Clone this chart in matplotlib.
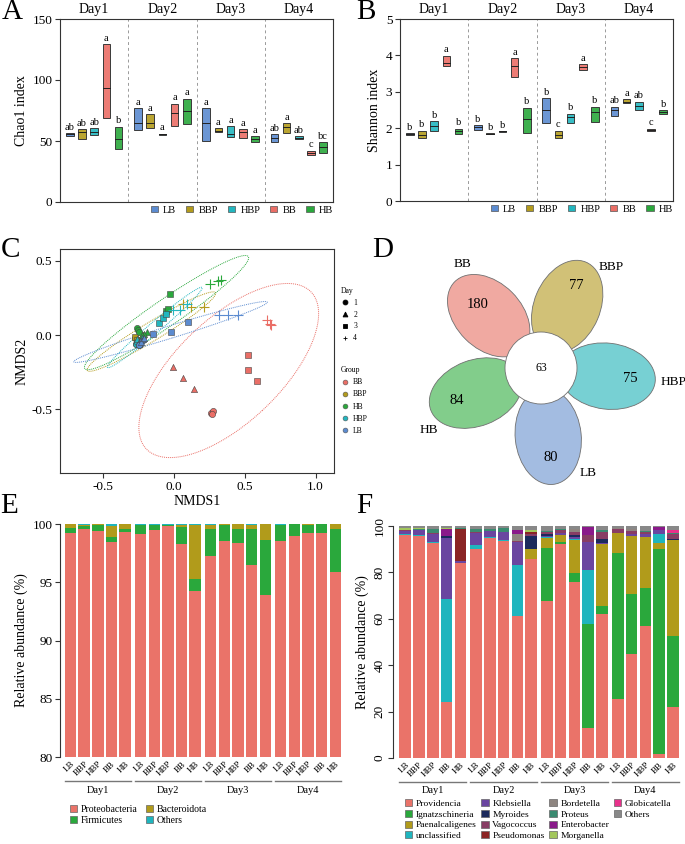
import numpy as np
import matplotlib
matplotlib.use("Agg")
import matplotlib.pyplot as plt
from matplotlib.patches import Ellipse, Circle, Patch
from matplotlib.lines import Line2D
from matplotlib.colors import to_rgba

plt.rcParams["font.family"] = ["Liberation Serif", "DejaVu Serif"]
plt.rcParams["axes.unicode_minus"] = False

W, H = 685, 844

groups = ["LB", "BBP", "HBP", "BB", "HB"]
days = ["Day1", "Day2", "Day3", "Day4"]
group_colors = {"LB": "#5b8bd0", "BBP": "#b39b1c", "HBP": "#22b6bf",
                "BB": "#ea6e66", "HB": "#2aa83c"}

# A: Chao1, rows = days, cols = groups (LB, BBP, HBP, BB, HB)
chao_low = [[54.3, 51.6, 54.9, 68.5, 43.4],
            [59.3, 60.3, 55.3, 62.0, 64.2],
            [50.2, 57.4, 53.3, 52.2, 49.2],
            [49.2, 56.4, 51.4, 38.4, 40.1]]
chao_mid = [[55.5, 57.0, 57.6, 93.7, 51.6],
            [64.8, 64.8, 55.7, 73.0, 74.6],
            [64.8, 58.5, 55.7, 57.0, 51.6],
            [52.4, 61.2, 52.7, 40.1, 44.8]]
chao_high = [[56.5, 59.8, 60.6, 129.5, 61.7],
             [77.0, 72.1, 56.0, 80.6, 84.7],
             [77.0, 60.6, 61.9, 59.8, 54.0],
             [55.7, 64.8, 54.1, 42.2, 49.2]]
chao_letters = [["ab", "ab", "ab", "a", "b"],
                ["a", "a", "a", "a", "a"],
                ["a", "a", "a", "a", "a"],
                ["ab", "a", "ab", "c", "bc"]]

# B: Shannon
shan_low = [[1.82, 1.73, 1.93, 3.70, 1.85],
            [1.96, 1.84, 1.90, 3.42, 1.88],
            [2.14, 1.73, 2.14, 3.59, 2.17],
            [2.33, 2.69, 2.51, 1.93, 2.39]]
shan_mid = [[1.84, 1.82, 2.05, 3.80, 1.93],
            [2.02, 1.85, 1.91, 3.71, 2.25],
            [2.51, 1.81, 2.30, 3.67, 2.44],
            [2.51, 2.73, 2.62, 1.96, 2.44]]
shan_high = [[1.87, 1.93, 2.19, 3.99, 1.99],
             [2.08, 1.86, 1.92, 3.92, 2.56],
             [2.82, 1.93, 2.40, 3.76, 2.59],
             [2.59, 2.79, 2.73, 1.99, 2.49]]
shan_letters = [["b", "b", "b", "a", "b"],
                ["b", "b", "b", "a", "b"],
                ["b", "c", "b", "a", "b"],
                ["ab", "a", "ab", "c", "b"]]

# C: NMDS scores, 3 replicates per day (Day1..Day4)
nmds_order = ["BB", "BBP", "HB", "HBP", "LB"]
nmds1 = {
    "BB": [0.257, 0.273, 0.265, -0.007, 0.065, 0.138, 0.519, 0.521, 0.589, 0.654, 0.682, 0.675],
    "BBP": [-0.275, -0.26, -0.27, -0.22, -0.24, -0.26, -0.276, -0.264, -0.25, 0.063, 0.117, 0.208],
    "HB": [-0.265, -0.255, -0.25, -0.19, -0.21, -0.23, -0.03, -0.06, -0.047, 0.25, 0.308, 0.332],
    "HBP": [-0.27, -0.26, -0.25, -0.26, -0.245, -0.23, -0.105, -0.082, -0.061, -0.01, 0.04, 0.09],
    "LB": [-0.24, -0.23, -0.25, -0.22, -0.235, -0.21, -0.147, -0.019, 0.098, 0.32, 0.378, 0.449],
}
nmds2 = {
    "BB": [-0.523, -0.514, -0.53, -0.214, -0.288, -0.365, -0.133, -0.234, -0.311, 0.101, 0.065, 0.075],
    "BBP": [-0.02, -0.04, -0.06, 0.0, -0.03, -0.05, -0.011, -0.034, -0.06, 0.21, 0.187, 0.187],
    "HB": [0.045, 0.035, 0.02, 0.02, 0.005, 0.0, 0.277, 0.162, 0.173, 0.342, 0.365, 0.372],
    "HBP": [-0.06, -0.05, -0.07, -0.03, -0.045, -0.02, 0.079, 0.113, 0.142, 0.17, 0.17, 0.21],
    "LB": [-0.06, -0.04, -0.07, -0.03, -0.05, -0.02, 0.005, 0.023, 0.086, 0.135, 0.135, 0.135],
}

# D: flower diagram
venn_sets = ["BB", "BBP", "HBP", "LB", "HB"]
venn_unique = [180, 77, 75, 80, 84]
venn_core = 63
venn_colors = ["#f0a9a1", "#d1c177", "#77d0d3", "#a3bce1", "#82cd8b"]

# E: phylum relative abundance (%), 20 samples: Day1 LB..HB, Day2 ..., Day4
proteobacteria = [99.2, 99.57, 99.43, 98.48, 99.34, 99.14, 99.51, 99.8, 98.3, 94.25,
                  97.27, 98.5, 98.33, 96.47, 93.9, 98.5, 98.99, 99.22, 99.2, 95.92]
firmicutes = [0.45, 0.23, 0.46, 0.37, 0.23, 0.8, 0.43, 0.14, 1.44, 1.04,
              2.33, 1.44, 1.27, 3.13, 4.69, 1.44, 1.0, 0.67, 0.77, 3.68]
bacteroidota = [0.35, 0.15, 0.1, 0.95, 0.43, 0.01, 0.01, 0.01, 0.17, 4.65,
                0.34, 0.05, 0.4, 0.32, 1.41, 0.0, 0.01, 0.11, 0.0, 0.4]
phylum_others = [0.0, 0.05, 0.01, 0.2, 0.0, 0.05, 0.05, 0.05, 0.09, 0.06,
                 0.06, 0.01, 0.0, 0.08, 0.0, 0.06, 0.0, 0.0, 0.03, 0.0]
phylum_names = ["Proteobacteria", "Firmicutes", "Bacteroidota", "Others"]
phylum_colors = ["#ea7369", "#2aa83c", "#b19b1b", "#1fb5be"]

# F: genus relative abundance (%)
providencia = [96.3, 95.5, 92.7, 24.3, 84.1, 90.2, 94.8, 93.5, 61.4, 85.8,
               67.5, 92.4, 75.7, 13.1, 61.9, 25.4, 45.0, 56.8, 1.6, 22.0]
ignatzschineria = [0, 0, 0, 0, 0, 0, 0, 0, 0, 0,
                   23.0, 0.8, 4.2, 44.8, 3.6, 63.1, 25.5, 16.6, 88.6, 30.6]
paenalcaligenes = [0, 0, 0, 0, 0, 0, 0, 0, 0, 4.4,
                   4.3, 2.8, 13.9, 0, 26.7, 8.6, 25.0, 21.9, 2.5, 41.5]
unclassified = [0.3, 0.7, 0.4, 44.1, 0, 1.5, 0.6, 0.6, 21.6, 0,
                0.3, 0.3, 0.4, 23.0, 0, 0, 0.4, 0, 3.9, 0]
klebsiella = [1.2, 1.9, 3.6, 26.6, 0.7, 5.3, 2.6, 3.2, 10.1, 0,
              0.8, 0.8, 1.2, 12.2, 0.5, 0, 0.8, 1.2, 1.6, 0]
myroides = [0, 0, 0, 0.9, 0, 0, 0, 0, 0, 5.5,
            0.5, 0, 0.6, 0, 1.5, 0, 0, 0, 0, 0.5]
vagococcus = [0.3, 0, 0.3, 0, 0, 0.6, 0, 0, 0.5, 0.9,
              1.0, 1.0, 1.4, 2.9, 3.3, 1.5, 1.0, 0.8, 0, 1.9]
pseudomonas = [0, 0, 0, 0, 13.8, 0, 0, 0, 0, 0.6,
               0, 0, 0, 0, 0, 0, 0, 0, 0, 0]
bordetella = [0, 0, 0, 0, 0, 0, 0, 0, 2.9, 0,
              0, 0, 1.2, 0, 0, 0.4, 1.0, 0, 0, 0]
proteus = [0.3, 0.8, 1.9, 0, 0.6, 1.2, 0.7, 1.7, 0, 0,
           0.6, 0.5, 0, 0, 0.8, 0, 0, 0.5, 0, 0.5]
enterobacter = [0, 0, 0, 2.7, 0, 0, 0, 0, 1.7, 0,
                0, 0, 0, 3.4, 0, 0, 0, 0, 1.4, 0]
morganella = [0.8, 0.2, 0, 0.7, 0, 0, 0, 0, 0, 1.2,
              0, 0, 0, 0, 0, 0, 0, 0, 0, 0]
globicatella = [0, 0, 0, 0, 0, 0, 0, 0, 0, 0,
                0, 0, 0, 0, 0, 0, 0, 0, 0, 1.3]
genus_others = [0.8, 0.9, 1.1, 0.7, 0.8, 1.2, 1.3, 1.0, 1.8, 1.6,
                2.0, 1.4, 1.4, 0.6, 1.7, 1.0, 1.3, 2.2, 0.4, 1.7]
genus_names = ["Providencia", "Ignatzschineria", "Paenalcaligenes", "unclassified",
               "Klebsiella", "Myroides", "Vagococcus", "Pseudomonas",
               "Bordetella", "Proteus", "Enterobacter", "Morganella",
               "Globicatella", "Others"]
genus_colors = ["#ea7369", "#2aa83c", "#b19b1b", "#1fb5be", "#6a45a0", "#1c2a5c",
                "#883d64", "#8b2424", "#8e8580", "#3a8a70", "#8a1a8a", "#a3c75c",
                "#e8318b", "#888888"]

fig = plt.figure(figsize=(W / 100, H / 100), dpi=100)


def px_axes(left, top, right, bottom):
    return fig.add_axes([left / W, 1 - bottom / H, (right - left) / W, (bottom - top) / H])


def style_ticks(ax):
    ax.tick_params(direction="out", length=3.5, width=0.8, color="#333333",
                   labelsize=9.5, pad=2)
    for s in ax.spines.values():
        s.set_color("#333333")
        s.set_linewidth(0.8)


def box_panel(ax, low, mid, high, letters, ymax, yticks, ylabel):
    step = 5.6
    for d in range(4):
        for g, grp in enumerate(groups):
            x = d * step + 0.8 + g
            lo, md, hi = low[d][g], mid[d][g], high[d][g]
            ax.bar(x, hi - lo, bottom=lo, width=0.62,
                   facecolor=to_rgba(group_colors[grp], 0.9),
                   edgecolor="#3a3a3a", linewidth=0.7, zorder=3)
            ax.plot([x - 0.31, x + 0.31], [md, md], color="#222222", lw=0.7, zorder=4)
            ax.annotate(letters[d][g], (x, hi), xytext=(0, 1), textcoords="offset points",
                        ha="center", va="bottom", fontsize=7.5)
        if d:
            ax.axvline(d * step, color="#9a9a9a", lw=0.7, ls=(0, (3, 3)))
        ax.text(d * step + step / 2, 1.015, days[d], transform=ax.get_xaxis_transform(),
                ha="center", va="bottom", fontsize=10)
    ax.set_xlim(0, 4 * step)
    ax.set_ylim(0, ymax)
    ax.set_yticks(yticks)
    ax.set_xticks([])
    ax.set_ylabel(ylabel, fontsize=10, labelpad=3)
    style_ticks(ax)
    handles = [Patch(facecolor=group_colors[g], edgecolor="#555555", linewidth=0.5)
               for g in groups]
    ax.legend(handles, groups, ncol=5, loc="upper right", bbox_to_anchor=(1.0, -0.02),
              frameon=False, fontsize=7.5, handlelength=0.7, handleheight=0.55,
              handletextpad=0.5, columnspacing=0.95, borderaxespad=0, borderpad=0)


ax_a = px_axes(60, 19, 333, 202)
box_panel(ax_a, chao_low, chao_mid, chao_high, chao_letters, 150, [0, 50, 100, 150], "Chao1 index")
ax_b = px_axes(400, 19, 673, 201)
box_panel(ax_b, shan_low, shan_mid, shan_high, shan_letters, 5, [0, 1, 2, 3, 4, 5], "Shannon index")

# C: NMDS
ax_c = px_axes(60, 249, 334, 473)
day_markers = ["o", "^", "s", "+"]
ELLIPSE_R = 2.55  # close to the robust t-ellipse drawn by stat_ellipse
t = np.linspace(0, 2 * np.pi, 200)
for grp in nmds_order:
    xs = np.array(nmds1[grp])
    ys = np.array(nmds2[grp])
    c = group_colors[grp]
    w, v = np.linalg.eigh(np.cov(xs, ys))
    pts = (v * np.sqrt(w)) @ np.stack([np.cos(t), np.sin(t)]) * ELLIPSE_R
    ax_c.plot(xs.mean() + pts[0], ys.mean() + pts[1], color=c, lw=0.7, ls=(0, (1, 1)), zorder=1)
for grp in nmds_order:
    xs = np.array(nmds1[grp])
    ys = np.array(nmds2[grp])
    c = group_colors[grp]
    for d in range(4):
        sl = slice(3 * d, 3 * d + 3)
        if day_markers[d] == "+":
            ax_c.scatter(xs[sl], ys[sl], marker="+", s=45, color=c, linewidths=0.8, zorder=3)
        else:
            ax_c.scatter(xs[sl], ys[sl], marker=day_markers[d], s=20, facecolor=c,
                         edgecolor="#444444", linewidths=0.4, zorder=3)
ax_c.set_xlim(-0.807, 1.13)
ax_c.set_ylim(-0.93, 0.58)
ax_c.set_xticks([-0.5, 0.0, 0.5, 1.0])
ax_c.set_xticklabels(["-0.5", "0.0", "0.5", "1.0"])
ax_c.set_yticks([-0.5, 0.0, 0.5])
ax_c.set_yticklabels(["-0.5", "0.0", "0.5"])
ax_c.set_xlabel("NMDS1", fontsize=10, labelpad=2)
ax_c.set_ylabel("NMDS2", fontsize=10, labelpad=2)
style_ticks(ax_c)

day_handles = [Line2D([], [], ls="", marker=m, color="black", markersize=3.5, markeredgewidth=0.6)
               for m in day_markers]
leg1 = ax_c.legend(day_handles, ["1", "2", "3", "4"], title="Day", loc="upper left",
                   bbox_to_anchor=(341 / W, 1 - 287 / H), bbox_transform=fig.transFigure,
                   frameon=False, fontsize=5.5, title_fontsize=5.5, handlelength=1.0,
                   handletextpad=0.6, labelspacing=0.5, borderpad=0, borderaxespad=0,
                   alignment="left")
ax_c.add_artist(leg1)
grp_handles = [Line2D([], [], ls="", marker="o", markerfacecolor=group_colors[g],
                      markeredgecolor="#555555", markeredgewidth=0.4, markersize=3.5)
               for g in nmds_order]
ax_c.legend(grp_handles, nmds_order, title="Group", loc="upper left",
            bbox_to_anchor=(341 / W, 1 - 366 / H), bbox_transform=fig.transFigure,
            frameon=False, fontsize=5.5, title_fontsize=5.5, handlelength=1.0,
            handletextpad=0.6, labelspacing=0.55, borderpad=0, borderaxespad=0,
            alignment="left")

# D: flower diagram (layout in pixel units around the core circle)
ax_d = px_axes(380, 240, 685, 495)
ax_d.set_xlim(-161, 144)
ax_d.set_ylim(-127, 128)
ax_d.axis("off")
petal_angles = [135, 67, -7, -84, 201]
petal_dist = [74, 67, 67, 69, 70]
label_angles = [127, 55, -6, -66, 209]
label_radius = [130, 123, 133, 115, 128]
for i, name in enumerate(venn_sets):
    a = np.deg2rad(petal_angles[i])
    r = petal_dist[i]
    ax_d.add_patch(Ellipse((r * np.cos(a), r * np.sin(a)), 96, 66, angle=petal_angles[i],
                           facecolor=venn_colors[i], edgecolor="#707070", lw=0.6))
    ax_d.text(90 * np.cos(a), 90 * np.sin(a), str(venn_unique[i]), ha="center", va="center",
              fontsize=10.5)
    la = np.deg2rad(label_angles[i])
    ax_d.text(label_radius[i] * np.cos(la), label_radius[i] * np.sin(la), name,
              ha="center", va="center", fontsize=9.5)
ax_d.add_patch(Circle((0, 0), 36, facecolor="white", edgecolor="#707070", lw=0.6, zorder=5))
ax_d.text(0, 0, str(venn_core), ha="center", va="center", fontsize=8.5, zorder=6)


def stacked_panel(ax, series, colors, ymin, yticks, rotate_y):
    step = 5.13
    pos = np.array([d * step + g for d in range(4) for g in range(5)])
    bottom = np.zeros(len(pos))
    for vals, col in zip(series, colors):
        vals = np.array(vals, dtype=float)
        ax.bar(pos, vals, bottom=bottom, width=0.84, color=col, linewidth=0)
        bottom += vals
    ax.set_ylim(ymin, 100)
    ax.set_yticks(yticks)
    ax.set_xticks(pos)
    ax.set_xticklabels(groups * 4, rotation=45, ha="right", rotation_mode="anchor", fontsize=6.5)
    ax.tick_params(axis="x", length=0, pad=2)
    for s in ["top", "right", "bottom"]:
        ax.spines[s].set_visible(False)
    ax.spines["left"].set_color("#333333")
    ax.spines["left"].set_linewidth(0.8)
    ax.tick_params(axis="y", direction="out", length=3.5, width=0.8, color="#333333",
                   labelsize=9.5, pad=2)
    if rotate_y:
        for lbl in ax.get_yticklabels():
            lbl.set_rotation(90)
            lbl.set_va("center")
    ax.set_ylabel("Relative abundance (%)", fontsize=10, labelpad=3)
    tr = ax.get_xaxis_transform()
    for d in range(4):
        x0, x1 = d * step - 0.42, d * step + 4.42
        ax.plot([x0, x1], [-0.103, -0.103], transform=tr, clip_on=False, color="#777777", lw=1.0)
        ax.text((x0 + x1) / 2, -0.142, days[d], transform=tr, ha="center", va="center",
                fontsize=7.5)
    return pos


ax_e = px_axes(60, 524, 343, 757)
stacked_panel(ax_e, [proteobacteria, firmicutes, bacteroidota, phylum_others], phylum_colors,
              80, [80, 85, 90, 95, 100], False)
ax_e.set_xlim(-0.77, 19.95)
e_handles = [Patch(facecolor=c, edgecolor="#666666", linewidth=0.5) for c in phylum_colors]
ax_e.legend(e_handles, phylum_names, ncol=2, loc="upper left",
            bbox_to_anchor=(70 / W, 1 - 805 / H), bbox_transform=fig.transFigure,
            frameon=False, fontsize=7, handlelength=0.75, handleheight=0.75,
            handletextpad=0.4, labelspacing=0.22, columnspacing=0.8, borderpad=0,
            borderaxespad=0)

ax_f = px_axes(393, 526, 680, 758)
genus_series = [providencia, ignatzschineria, paenalcaligenes, unclassified, klebsiella,
                myroides, vagococcus, pseudomonas, bordetella, proteus, enterobacter,
                morganella, globicatella, genus_others]
stacked_panel(ax_f, genus_series, genus_colors, 0, [0, 20, 40, 60, 80, 100], True)
ax_f.set_xlim(-0.88, 19.9)
f_handles = [Patch(facecolor=c, edgecolor="#666666", linewidth=0.5) for c in genus_colors]
f_labels = list(genus_names)
f_handles += [Patch(alpha=0)] * 2
f_labels += ["", ""]
ax_f.legend(f_handles, f_labels, ncol=4, loc="upper left",
            bbox_to_anchor=(405 / W, 1 - 799 / H), bbox_transform=fig.transFigure,
            frameon=False, fontsize=6.8, handlelength=0.75, handleheight=0.75,
            handletextpad=0.4, labelspacing=0.22, columnspacing=0.5, borderpad=0,
            borderaxespad=0)

for letter, x, y in [("A", 12, 12), ("B", 366, 12), ("C", 11, 250), ("D", 383, 250),
                     ("E", 9, 506), ("F", 364, 506)]:
    fig.text(x / W, 1 - y / H, letter, ha="center", va="center", fontsize=21)

fig.savefig("out.png", dpi=100)
